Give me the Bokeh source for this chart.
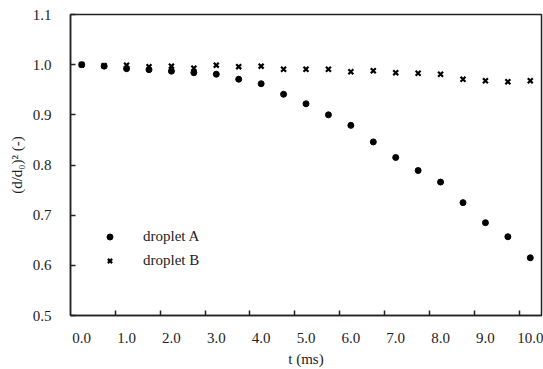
from bokeh.plotting import figure
from bokeh.models import Range1d, FixedTicker, Legend, LegendItem
from bokeh.embed import file_html
from bokeh.resources import INLINE

# ---- data ----
t_ms = [0.0, 0.5, 1.0, 1.5, 2.0, 2.5, 3.0, 3.5, 4.0, 4.5, 5.0,
        5.5, 6.0, 6.5, 7.0, 7.5, 8.0, 8.5, 9.0, 9.5, 10.0]
droplet_a = [1.000, 0.997, 0.992, 0.990, 0.987, 0.984, 0.981, 0.971, 0.962, 0.941, 0.922,
             0.900, 0.879, 0.846, 0.815, 0.789, 0.766, 0.725, 0.685, 0.657, 0.615]
droplet_b = [1.000, 0.998, 0.999, 0.996, 0.997, 0.993, 0.999, 0.996, 0.997, 0.991, 0.991,
             0.991, 0.986, 0.988, 0.984, 0.983, 0.981, 0.971, 0.968, 0.966, 0.968]
x_ticks = [0, 1, 2, 3, 4, 5, 6, 7, 8, 9, 10]
x_tick_labels = ["0.0", "1.0", "2.0", "3.0", "4.0", "5.0", "6.0", "7.0", "8.0", "9.0", "10.0"]
y_ticks = [0.5, 0.6, 0.7, 0.8, 0.9, 1.0, 1.1]
y_tick_labels = ["0.5", "0.6", "0.7", "0.8", "0.9", "1.0", "1.1"]
series_labels = ["droplet A", "droplet B"]

FONT = "Liberation Serif"
TXT = "#222222"

p = figure(width=543, height=369, output_backend="svg", toolbar_location=None,
           x_range=Range1d(-0.25, 10.25), y_range=Range1d(0.5, 1.1),
           min_border_left=70, min_border_right=2, min_border_top=14, min_border_bottom=53)
p.grid.visible = False
p.outline_line_color = "#222222"
p.outline_line_width = 1.5
p.background_fill_color = "white"
p.border_fill_color = "white"

# x axis
p.xaxis.ticker = FixedTicker(ticks=x_ticks, minor_ticks=[t + 0.75 for t in x_ticks[:-1]])
p.xaxis.major_label_overrides = {k: v for k, v in zip(x_ticks, x_tick_labels)}
p.xaxis.major_tick_in = 0
p.xaxis.major_tick_out = 0
p.xaxis.minor_tick_in = 5
p.xaxis.minor_tick_out = 0
p.xaxis.minor_tick_line_width = 1.5
p.xaxis.minor_tick_line_color = "#222222"
p.xaxis.axis_line_width = 1.5
p.xaxis.axis_line_color = "#222222"
p.xaxis.major_label_standoff = 17
p.xaxis.axis_label = "t (ms)"
p.xaxis.axis_label_standoff = 5
p.xaxis.axis_label_text_font = FONT
p.xaxis.axis_label_text_font_style = "normal"
p.xaxis.axis_label_text_font_size = "15px"
p.xaxis.axis_label_text_color = TXT
p.xaxis.major_label_text_font = FONT
p.xaxis.major_label_text_font_size = "15px"
p.xaxis.major_label_text_color = TXT

# y axis
p.yaxis.ticker = FixedTicker(ticks=y_ticks)
p.yaxis.major_label_overrides = {k: v for k, v in zip(y_ticks, y_tick_labels)}
p.yaxis.major_tick_in = 5
p.yaxis.major_tick_out = 0
p.yaxis.major_tick_line_width = 1.5
p.yaxis.major_tick_line_color = "#222222"
p.yaxis.minor_tick_line_color = None
p.yaxis.axis_line_width = 1.5
p.yaxis.axis_line_color = "#222222"
p.yaxis.major_label_standoff = 19
p.yaxis.axis_label = "(d/d\u2080)\u00b2 (-)"
p.yaxis.axis_label_standoff = 5
p.yaxis.axis_label_text_font = FONT
p.yaxis.axis_label_text_font_style = "normal"
p.yaxis.axis_label_text_font_size = "15px"
p.yaxis.axis_label_text_color = TXT
p.yaxis.major_label_text_font = FONT
p.yaxis.major_label_text_font_size = "15px"
p.yaxis.major_label_text_color = TXT

# series
ra = p.scatter(t_ms, droplet_a, marker="circle", size=6, fill_color="black", line_color="black")
rb = p.scatter(t_ms, droplet_b, marker="x", size=7, line_color="black", line_width=2.2)

legend = Legend(items=[LegendItem(label=series_labels[0], renderers=[ra]),
                       LegendItem(label=series_labels[1], renderers=[rb])],
                location=(32, 45), padding=5, spacing=4,
                glyph_width=15, glyph_height=15, label_height=20, label_standoff=26,
                border_line_color=None, background_fill_alpha=0,
                label_text_font=FONT, label_text_font_size="15px", label_text_color=TXT)
p.add_layout(legend, "center")

open("out.html", "w").write(file_html(p, INLINE))
